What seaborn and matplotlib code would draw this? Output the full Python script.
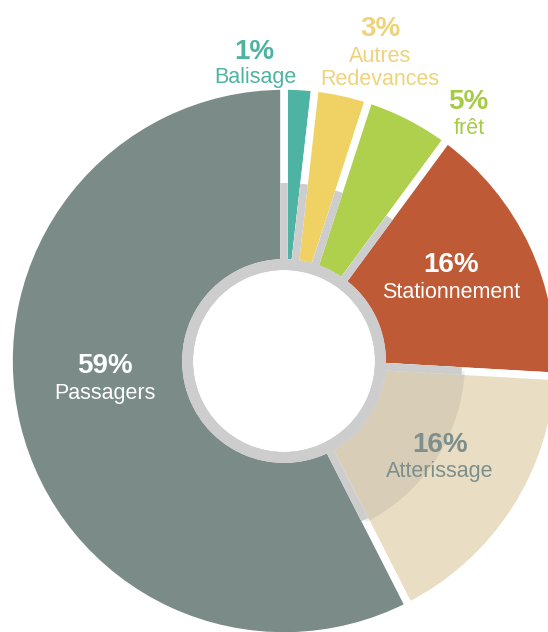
import numpy as np
import matplotlib
matplotlib.use("Agg")
import matplotlib.pyplot as plt
import seaborn as sns

# parts of the pie, clockwise from the top
names = ["Balisage", "Autres\nRedevances", "frêt", "Stationnement", "Atterissage", "Passagers"]
pct_labels = ["1%", "3%", "5%", "16%", "16%", "59%"]
shares = [1.8, 3.2, 5.1, 15.8, 16.6, 57.5]

colors = ["#4fb3a3", "#f0d264", "#afd04c", "#bf5a36", "#e9ddc4", "#7a8b88"]
text_colors = ["#4fb3a3", "#eed37a", "#a6cb45", "white", "#7d8f8c", "white"]

sns.set_style("white")
plt.rcParams["font.family"] = ["Liberation Sans", "DejaVu Sans"]

fig = plt.figure(figsize=(5.48, 6.32), dpi=100)
ax = fig.add_axes([0, 0, 1, 1])

R_OUT = 275       # outer radius (px), white stroke eats ~4px
R_IN = 98         # inner radius of the wedges
R_GREY = 178      # grey disk shown in the gaps near the centre
R_HOLE = 91
LW = 5.5
grey = "#cdcdcd"

# grey ring behind the wedges
ax.pie([1], radius=R_GREY, colors=[grey], startangle=90,
       wedgeprops=dict(width=R_GREY - R_HOLE, linewidth=0, zorder=1))

# main donut
ax.pie(shares, radius=R_OUT, colors=colors, startangle=90, counterclock=False,
       wedgeprops=dict(width=R_OUT - R_IN, edgecolor="white", linewidth=LW, zorder=2))

# darker inner band on Atterissage
shade = [(0, 0, 0, 0.07) if n == "Atterissage" else (0, 0, 0, 0) for n in names]
ax.pie(shares, radius=181, colors=shade, startangle=90, counterclock=False,
       wedgeprops=dict(width=181 - R_IN, linewidth=0, zorder=3))

# gaps are grey near the centre
bounds = np.cumsum([0] + shares) / sum(shares) * 360
for b in bounds[:-1]:
    phi = np.deg2rad(90 - b)
    r = np.array([R_IN, R_GREY])
    ax.plot(r * np.cos(phi), r * np.sin(phi), color=grey, lw=LW,
            solid_capstyle="butt", zorder=4)

# ring round the hole
ax.pie([1], radius=R_IN + 4, colors=[grey], startangle=90,
       wedgeprops=dict(width=R_IN + 4 - R_HOLE, linewidth=0, zorder=5))

# labels: percent position, and name position
pct_xy = [(-30, 309), (96, 332), (184, 259), (167, 96), (156, -84), (-179, -5)]
name_xy = [(-29, 284), (96, 293), (185, 233), (167, 68), (156, -111), (-179, -32)]
for i in range(len(names)):
    ax.text(*pct_xy[i], pct_labels[i], ha="center", va="center", fontsize=20,
            fontweight="bold", color=text_colors[i], zorder=6)
    ax.text(*name_xy[i], names[i], ha="center", va="center", fontsize=15.5,
            color=text_colors[i], linespacing=1.1, zorder=6)

ax.set_xlim(-284, 264)
ax.set_ylim(-271, 361)
ax.set_aspect("equal")
ax.axis("off")

fig.savefig("out.png", dpi=100)
